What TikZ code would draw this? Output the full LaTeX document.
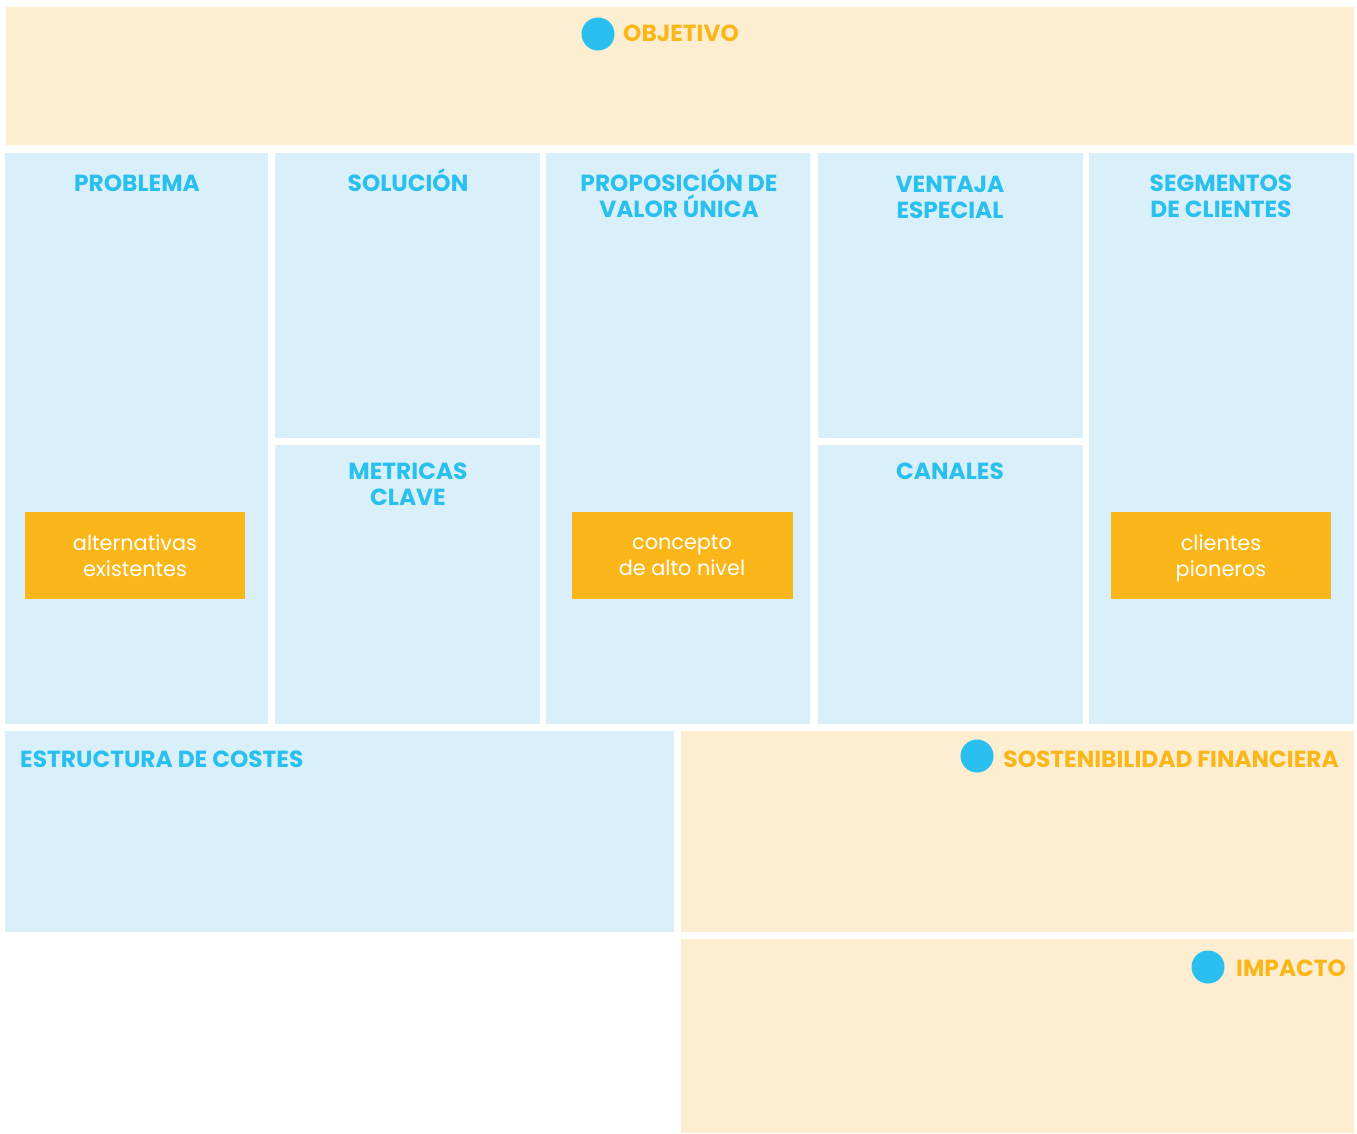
\documentclass[tikz,border=0pt]{standalone}
\usepackage{fontspec}
\setmainfont{Poppins}
\definecolor{cream}{HTML}{FDEED1}
\definecolor{sky}{HTML}{D9F0FA}
\definecolor{cyanink}{HTML}{29BFEE}
\definecolor{amber}{HTML}{FBB71A}
\tikzset{
  x=1pt, y=-1pt,
  panel/.style={fill=sky, draw=none},
  warm/.style={fill=cream, draw=none},
  note/.style={fill=amber, draw=none},
  heading/.style={text=cyanink, font=\fontsize{23.3}{26}\selectfont\bfseries, align=center, anchor=base, inner sep=0pt},
  goal/.style={text=amber, font=\fontsize{23.3}{26}\selectfont\bfseries, anchor=base west, inner sep=0pt},
  notetext/.style={text=white, font=\fontsize{20.8}{26}\selectfont, align=center, anchor=base, inner sep=0pt},
  dot/.style={circle, fill=cyanink, draw=none, minimum size=33pt, inner sep=0pt}
}
\begin{document}
\begin{tikzpicture}
\useasboundingbox (0,0) rectangle (1357,1133);
% panels
\fill[warm]  (6,7) rectangle (1354,145);
\fill[panel] (5,153) rectangle (268,724);
\fill[panel] (275,153) rectangle (540,438);
\fill[panel] (275,445) rectangle (540,724);
\fill[panel] (546,153) rectangle (810,724);
\fill[panel] (818,153) rectangle (1083,438);
\fill[panel] (818,445) rectangle (1083,724);
\fill[panel] (1089,153) rectangle (1354,724);
\fill[panel] (5,731) rectangle (674,932);
\fill[warm]  (681,731) rectangle (1354,932);
\fill[warm]  (681,939) rectangle (1354,1133);
% highlighted notes (positions give the baseline of the last line)
\fill[note] (25,512) rectangle (245,599);
\fill[note] (572,512) rectangle (793,599);
\fill[note] (1111,512) rectangle (1331,599);
\node[notetext] (alt) at (135,576) {alternativas\\existentes};
\node[notetext] (con) at (682,575) {concepto\\de alto nivel};
\node[notetext] (cli) at (1221,576) {clientes\\pioneros};
% headings
\node[heading] (prob) at (137,191) {PROBLEMA};
\node[heading] (sol)  at (408,191) {SOLUCIÓN};
\node[heading] (prop) at (679,217) {PROPOSICIÓN DE\\VALOR ÚNICA};
\node[heading] (vent) at (950,218) {VENTAJA\\ESPECIAL};
\node[heading] (seg)  at (1221,217) {SEGMENTOS\\DE CLIENTES};
\node[heading] (met)  at (408,505) {METRICAS\\CLAVE};
\node[heading] (can)  at (950,479) {CANALES};
\node[heading, anchor=base west] (cost) at (20,767) {ESTRUCTURA DE COSTES};
% goals with markers
\node[dot] (d1) at (598,34) {};
\node[goal] (obj) at (623,41) {OBJETIVO};
\node[dot] (d2) at (977,756) {};
\node[goal, anchor=base east] (sost) at (1339,767) {SOSTENIBILIDAD FINANCIERA};
\node[dot] (d3) at (1208,967) {};
\node[goal] (imp) at (1236,976) {IMPACTO};
\end{tikzpicture}
\end{document}
